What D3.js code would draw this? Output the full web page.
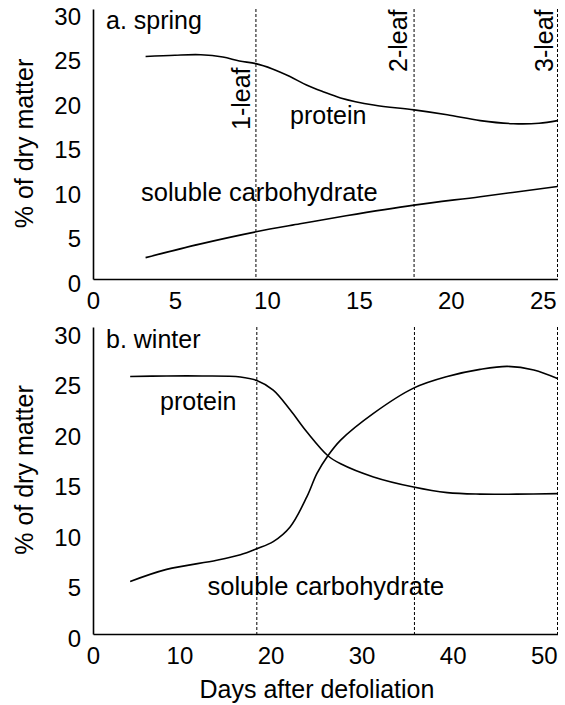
<!DOCTYPE html>
<html><head><meta charset="utf-8">
<script src="https://cdn.jsdelivr.net/npm/d3@7"></script>
<style>body{margin:0;background:#fff}svg{display:block}text{font-family:"Liberation Sans",Arial,sans-serif;fill:#000}</style>
</head><body>
<script>
// ---- data ----
const springProteinDays = [3.4, 5.0, 6.4, 7.6, 8.5, 9.4, 10.3, 11.25, 12.15, 13.05, 14.0, 15.8, 18.0, 19.8, 21.6, 23.4, 24.8, 25.8];
const springProtein     = [25.0, 25.15, 25.2, 24.95, 24.5, 24.2, 23.6, 22.75, 21.8, 21.05, 20.35, 19.55, 19.0, 18.45, 17.8, 17.45, 17.5, 17.8];
const springCarbDays    = [3.4, 6.4, 9.4, 11.8, 14.3, 18.0, 21.6, 25.8];
const springCarb        = [2.4, 3.95, 5.3, 6.2, 7.1, 8.3, 9.25, 10.4];
const springLeafDays    = [9.4, 18.0, 25.8];
const springLeafLabels  = ["1-leaf", "2-leaf", "3-leaf"];
const springXTicks      = [0, 5, 10, 15, 20, 25];

const winterProteinDays = [4.6, 8.6, 12.5, 16.7, 18.5, 20.3, 22.15, 24.0, 26.3, 27.7, 31.3, 35.7, 39.4, 43.0, 47.0, 51.5];
const winterProtein     = [25.5, 25.55, 25.55, 25.45, 25.1, 24.15, 22.2, 20.0, 17.65, 16.85, 15.55, 14.55, 14.0, 13.85, 13.85, 13.9];
const winterCarbDays    = [4.6, 8.6, 14.1, 16.7, 18.5, 20.3, 22.15, 24.0, 25.1, 26.3, 27.7, 31.3, 35.7, 39.4, 43.0, 46.0, 48.9, 51.5];
const winterCarb        = [5.2, 6.4, 7.3, 7.85, 8.45, 9.15, 10.6, 13.6, 15.9, 17.65, 19.2, 21.85, 24.35, 25.5, 26.2, 26.5, 26.15, 25.3];
const winterLeafDays    = [18.5, 35.8, 51.5];
const winterXTicks      = [0, 10, 20, 30, 40, 50];

const yTicks = [0, 5, 10, 15, 20, 25, 30];

// ---- drawing ----
const W = 565, H = 705;
const svg = d3.select("body").append("svg").attr("width", W).attr("height", H);

function panel(cfg) {
  const x = d3.scaleLinear().domain(cfg.xDomain).range([93, 557.5]);
  const y = d3.scaleLinear().domain(cfg.yDomain).range(cfg.yRange);
  const g = svg.append("g");
  const tickVals = cfg.xTicks.map(t => t === 0 ? cfg.xDomain[0] : t);

  const ax = g.append("g").attr("transform", `translate(0,${cfg.yRange[0]})`)
    .call(d3.axisBottom(x).tickValues(tickVals).tickFormat(d => Math.floor(d)).tickSize(0).tickPadding(13).tickSizeOuter(0));
  const ay = g.append("g").attr("transform", `translate(93,0)`)
    .call(d3.axisLeft(y).tickValues(yTicks).tickSize(0).tickPadding(12).tickSizeOuter(0));
  [ax, ay].forEach(a => {
    a.select(".domain").attr("stroke", "#000").attr("stroke-width", 1.6);
    a.selectAll("text").attr("font-size", 24).style("font-family", '"Liberation Sans",Arial,sans-serif').attr("fill", "#000");
  });
  ay.selectAll("text").attr("dy", "0.5em");

  g.selectAll(".leaf").data(cfg.leafDays).join("line")
    .attr("x1", d => x(d)).attr("x2", d => x(d))
    .attr("y1", cfg.yRange[1]).attr("y2", cfg.yRange[0])
    .attr("stroke", "#000").attr("stroke-width", 1).attr("stroke-dasharray", "3,2");

  const line = d3.line().x(d => x(d[0])).y(d => y(d[1])).curve(d3.curveCatmullRom.alpha(0.5));
  cfg.series.forEach(s => {
    g.append("path").datum(d3.zip(s.days, s.vals)).attr("d", line)
      .attr("fill", "none").attr("stroke", "#000").attr("stroke-width", 1.6);
  });
  return { g, x, y };
}

const springPanel = panel({
  xDomain: [0.54, 25.8], yDomain: [0, 30.34], yRange: [279, 9],
  xTicks: springXTicks, leafDays: springLeafDays,
  series: [{ days: springProteinDays, vals: springProtein }, { days: springCarbDays, vals: springCarb }]
});
const winterPanel = panel({
  xDomain: [0.52, 51.5], yDomain: [0, 30.4], yRange: [634, 327],
  xTicks: winterXTicks, leafDays: winterLeafDays,
  series: [{ days: winterProteinDays, vals: winterProtein }, { days: winterCarbDays, vals: winterCarb }]
});

function label(txt, x, y, opts = {}) {
  const t = svg.append("text").text(txt).attr("font-size", opts.size || 25)
    .attr("text-anchor", opts.anchor || "start");
  if (opts.rotate) t.attr("transform", `translate(${x},${y}) rotate(-90)`);
  else t.attr("x", x).attr("y", y);
  return t;
}

label("a. spring", 106, 29);
label("protein", 290, 124);
label("soluble carbohydrate", 141, 201, { size: 25.5 });
const leafStart = [130, 72, 72];
const leafOff = [6, 7, 5];
springLeafLabels.forEach((l, i) => label(l, springPanel.x(springLeafDays[i]) - leafOff[i], leafStart[i], { rotate: true }));
label("% of dry matter", 33, 143.5, { rotate: true, anchor: "middle" });

label("b. winter", 106, 347.5);
label("protein", 160, 410);
label("soluble carbohydrate", 207.5, 595, { size: 25.5 });
label("% of dry matter", 33, 470, { rotate: true, anchor: "middle" });
label("Days after defoliation", 317, 698, { anchor: "middle" });
</script>
</body></html>
